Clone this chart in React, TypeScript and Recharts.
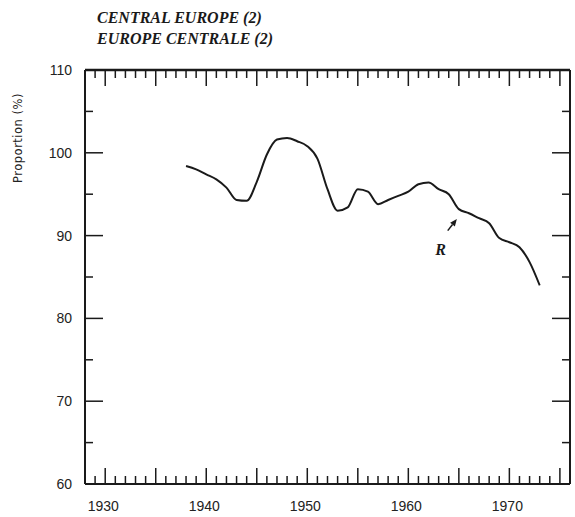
import React from 'react';
import { LineChart, Line, XAxis, YAxis, ReferenceLine, ReferenceDot } from 'recharts';

// ---- data ----
const years = [
  1938, 1939, 1940, 1941, 1942, 1943, 1944, 1945, 1946, 1947, 1948, 1949,
  1950, 1951, 1952, 1953, 1954, 1955, 1956, 1957, 1958, 1959, 1960, 1961,
  1962, 1963, 1964, 1965, 1966, 1967, 1968, 1969, 1970, 1971, 1972, 1973,
];
const proportion = [
  98.4, 98.0, 97.4, 96.8, 95.8, 94.3, 94.2, 96.5, 99.8, 101.6, 101.8, 101.4,
  100.8, 99.3, 95.6, 93.0, 93.4, 95.6, 95.3, 93.8, 94.3, 94.8, 95.3, 96.2,
  96.4, 95.6, 95.0, 93.2, 92.7, 92.1, 91.5, 89.7, 89.2, 88.6, 86.8, 84.0,
];
const yearLabels = [1930, 1940, 1950, 1960, 1970];
const valueLabels = [60, 70, 80, 90, 100, 110];
const titleLines = ['CENTRAL EUROPE (2)', 'EUROPE CENTRALE (2)'];
const yAxisTitle = 'Proportion (%)';
const annotationText = 'R';
const annotationPos = { x: 1963.2, y: 88.4 };
const arrowFrom = { x: 1963.9, y: 90.6 };
const arrowTo = { x: 1964.8, y: 92.0 };

const xDomain: [number, number] = [1928, 1976];
const yDomain: [number, number] = [60, 110];

const data = years.map((year, i) => ({ year, value: proportion[i] }));
const xTicks: number[] = [];
for (let v = xDomain[0]; v <= xDomain[1]; v++) xTicks.push(v);
const yTicks: number[] = [];
for (let v = yDomain[0]; v <= yDomain[1]; v += 5) yTicks.push(v);

const INK = '#1a1a1a';
const tickFont = "'Liberation Sans', Arial, sans-serif";

const BottomTick = (props: any) => {
  const { x, y, payload } = props;
  const v = payload.value;
  const len = v % 5 === 0 ? 16 : 8;
  return (
    <g>
      <line x1={x} x2={x} y1={y} y2={y - len} stroke={INK} strokeWidth={1.5} />
      {yearLabels.includes(v) && (
        <text x={x - 2} y={y + 27} textAnchor="middle" fontFamily={tickFont} fontSize={14} fill="#222">
          {v}
        </text>
      )}
    </g>
  );
};

const TopTick = (props: any) => {
  const { x, y, payload } = props;
  const v = payload.value;
  const len = v % 5 === 0 ? 16 : 8;
  return <line x1={x} x2={x} y1={y} y2={y + len} stroke={INK} strokeWidth={1.5} />;
};

const LeftTick = (props: any) => {
  const { x, y, payload } = props;
  const v = payload.value;
  const len = v % 10 === 0 ? 18 : 8;
  return (
    <g>
      <line x1={x} x2={x + len} y1={y} y2={y} stroke={INK} strokeWidth={1.5} />
      {valueLabels.includes(v) && (
        <text x={x - 13} y={y + 5} textAnchor="end" fontFamily={tickFont} fontSize={14} fill="#222">
          {v}
        </text>
      )}
    </g>
  );
};

const RightTick = (props: any) => {
  const { x, y, payload } = props;
  const v = payload.value;
  const len = v % 10 === 0 ? 18 : 8;
  return <line x1={x} x2={x - len} y1={y} y2={y} stroke={INK} strokeWidth={1.5} />;
};

const ArrowShape = (props: any) => {
  const { x1, y1, x2, y2 } = props;
  const ang = Math.atan2(y2 - y1, x2 - x1);
  const hl = 7;
  const hw = 3;
  const bx = x2 - hl * Math.cos(ang);
  const by = y2 - hl * Math.sin(ang);
  const px = -Math.sin(ang) * hw;
  const py = Math.cos(ang) * hw;
  return (
    <g>
      <line x1={x1} y1={y1} x2={bx} y2={by} stroke={INK} strokeWidth={1.5} />
      <polygon points={`${x2},${y2} ${bx + px},${by + py} ${bx - px},${by - py}`} fill={INK} />
    </g>
  );
};

const LabelShape = (props: any) => {
  const { cx, cy } = props;
  return (
    <text x={cx} y={cy + 6} textAnchor="middle" fontFamily="'Liberation Serif', serif" fontStyle="italic" fontWeight="bold" fontSize={16} fill={INK}>
      {annotationText}
    </text>
  );
};

const axisLine = { stroke: INK, strokeWidth: 2 };

export default function App() {
  return (
    <div style={{ position: 'fixed', left: 0, top: 0, width: 575, height: 517, background: '#fff' }}>
      <div
        style={{
          position: 'absolute',
          left: 97,
          top: 7,
          fontFamily: "'Liberation Serif', 'Times New Roman', serif",
          fontStyle: 'italic',
          fontWeight: 'bold',
          fontSize: 16,
          lineHeight: '21px',
          color: INK,
          whiteSpace: 'nowrap',
        }}
      >
        {titleLines.map((t) => (
          <div key={t}>{t}</div>
        ))}
      </div>
      <div
        style={{
          position: 'absolute',
          left: 18,
          top: 138,
          transform: 'translate(-50%, -50%) rotate(-90deg)',
          fontFamily: "'DejaVu Sans', sans-serif",
          fontSize: 11.5,
          letterSpacing: 0.5,
          color: '#222',
          whiteSpace: 'nowrap',
        }}
      >
        {yAxisTitle}
      </div>
      <div style={{ position: 'absolute', left: 0, top: 0 }}>
        <LineChart width={575} height={517} data={data} margin={{ top: 0, right: 0, bottom: 0, left: 0 }}>
          <XAxis
            xAxisId="b"
            dataKey="year"
            type="number"
            domain={xDomain}
            ticks={xTicks}
            interval={0}
            orientation="bottom"
            height={33}
            tickSize={0}
            tickMargin={0}
            tickLine={false}
            axisLine={axisLine}
            tick={<BottomTick />}
            allowDataOverflow
          />
          <XAxis
            xAxisId="t"
            dataKey="year"
            type="number"
            domain={xDomain}
            ticks={xTicks}
            interval={0}
            orientation="top"
            height={70}
            tickSize={0}
            tickMargin={0}
            tickLine={false}
            axisLine={{ stroke: INK, strokeWidth: 2.5 }}
            tick={<TopTick />}
            allowDataOverflow
          />
          <YAxis
            yAxisId="l"
            type="number"
            domain={yDomain}
            ticks={yTicks}
            interval={0}
            orientation="left"
            width={85}
            tickSize={0}
            tickMargin={0}
            tickLine={false}
            axisLine={axisLine}
            tick={<LeftTick />}
            allowDataOverflow
          />
          <YAxis
            yAxisId="r"
            type="number"
            domain={yDomain}
            ticks={yTicks}
            interval={0}
            orientation="right"
            width={5}
            tickSize={0}
            tickMargin={0}
            tickLine={false}
            axisLine={axisLine}
            tick={<RightTick />}
            allowDataOverflow
          />
          <Line
            xAxisId="b"
            yAxisId="l"
            dataKey="value"
            type="monotone"
            stroke={INK}
            strokeWidth={2}
            dot={false}
            isAnimationActive={false}
          />
          <ReferenceLine
            xAxisId="b"
            yAxisId="l"
            segment={[arrowFrom, arrowTo]}
            ifOverflow="visible"
            shape={<ArrowShape />}
          />
          <ReferenceDot
            xAxisId="b"
            yAxisId="l"
            x={annotationPos.x}
            y={annotationPos.y}
            r={0}
            ifOverflow="visible"
            shape={<LabelShape />}
          />
        </LineChart>
      </div>
    </div>
  );
}
